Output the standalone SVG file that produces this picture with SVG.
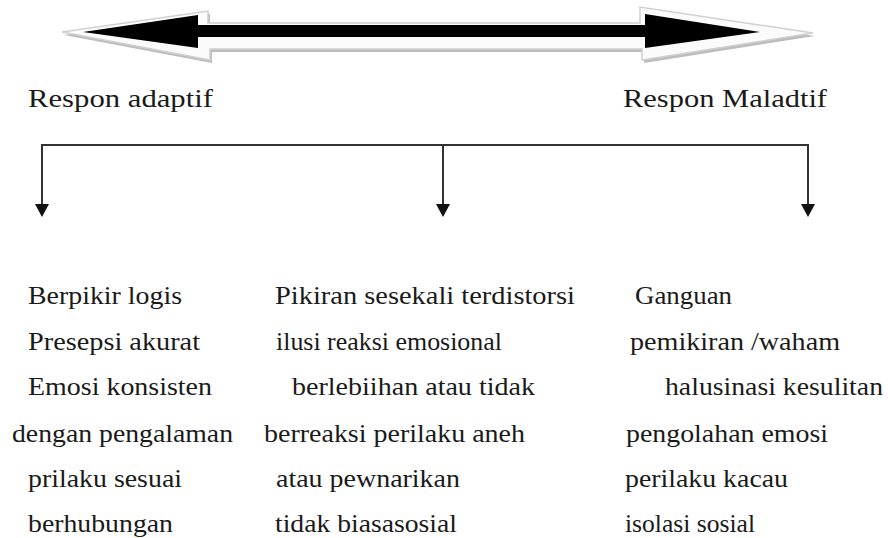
<svg xmlns="http://www.w3.org/2000/svg" width="888" height="538" viewBox="0 0 888 538">
<style>
.t{font-family:"Liberation Serif","Times New Roman","DejaVu Serif",serif;font-size:26px;fill:#1a1a1a}
.c{stroke:#333;stroke-width:2;fill:none}
</style>
<defs>
<marker id="ah" markerWidth="14" markerHeight="14" refX="1" refY="7" orient="auto" markerUnits="userSpaceOnUse" viewBox="0 0 14 14">
<path d="M0,0 L13,7 L0,14 Z" fill="#111"/>
</marker>
</defs>
<rect width="888" height="538" fill="#fff"/>
<g id="double-arrow">
<polygon points="64,35 210,14 210,26 642,26 642,10 815,36 644,63 644,52 212,52 212,63" fill="#bdbdbd"/>
<polygon points="62,32 208,11 208,23 640,23 640,7 813,33 642,60 642,49 210,49 210,60" fill="#fbfbfb" stroke="#d0d0d0" stroke-width="1.5"/>
<polygon points="83,32 198,15 198,25 645,25 645,14 760,32 645,48 645,37 198,37 198,48" fill="#000"/>
</g>
<g id="label-adaptif"><text class="t" x="28" y="107" textLength="185" lengthAdjust="spacingAndGlyphs">Respon adaptif</text></g>
<g id="label-maladtif"><text class="t" x="623" y="107" textLength="204" lengthAdjust="spacingAndGlyphs">Respon Maladtif</text></g>
<g id="col-adaptif">
<text class="t" x="28" y="304" textLength="154" lengthAdjust="spacingAndGlyphs">Berpikir logis</text>
<text class="t" x="28" y="350" textLength="172" lengthAdjust="spacingAndGlyphs">Presepsi akurat</text>
<text class="t" x="28" y="395" textLength="184" lengthAdjust="spacingAndGlyphs">Emosi konsisten</text>
<text class="t" x="12" y="442" textLength="221" lengthAdjust="spacingAndGlyphs">dengan pengalaman</text>
<text class="t" x="28" y="487" textLength="154" lengthAdjust="spacingAndGlyphs">prilaku sesuai</text>
<text class="t" x="28" y="532" textLength="145" lengthAdjust="spacingAndGlyphs">berhubungan</text>
</g>
<g id="col-middle">
<text class="t" x="275" y="304" textLength="300" lengthAdjust="spacingAndGlyphs">Pikiran sesekali terdistorsi</text>
<text class="t" x="276" y="350" textLength="226" lengthAdjust="spacingAndGlyphs">ilusi reaksi emosional</text>
<text class="t" x="292" y="395" textLength="243" lengthAdjust="spacingAndGlyphs">berlebiihan atau tidak</text>
<text class="t" x="264" y="442" textLength="261" lengthAdjust="spacingAndGlyphs">berreaksi perilaku aneh</text>
<text class="t" x="276" y="487" textLength="184" lengthAdjust="spacingAndGlyphs">atau pewnarikan</text>
<text class="t" x="275" y="532" textLength="182" lengthAdjust="spacingAndGlyphs">tidak biasasosial</text>
</g>
<g id="col-maladtif">
<text class="t" x="635" y="304" textLength="97" lengthAdjust="spacingAndGlyphs">Ganguan</text>
<text class="t" x="630" y="350" textLength="210" lengthAdjust="spacingAndGlyphs">pemikiran /waham</text>
<text class="t" x="665" y="395" textLength="218" lengthAdjust="spacingAndGlyphs">halusinasi kesulitan</text>
<text class="t" x="626" y="442" textLength="202" lengthAdjust="spacingAndGlyphs">pengolahan emosi</text>
<text class="t" x="625" y="487" textLength="163" lengthAdjust="spacingAndGlyphs">perilaku kacau</text>
<text class="t" x="625" y="532" textLength="130" lengthAdjust="spacingAndGlyphs">isolasi sosial</text>
</g>
<g id="connectors">
<path class="c" d="M42,145 H808"/>
<path class="c" d="M42,144 V205" marker-end="url(#ah)"/>
<path class="c" d="M443,144 V205" marker-end="url(#ah)"/>
<path class="c" d="M808,144 V205" marker-end="url(#ah)"/>
</g>
</svg>
